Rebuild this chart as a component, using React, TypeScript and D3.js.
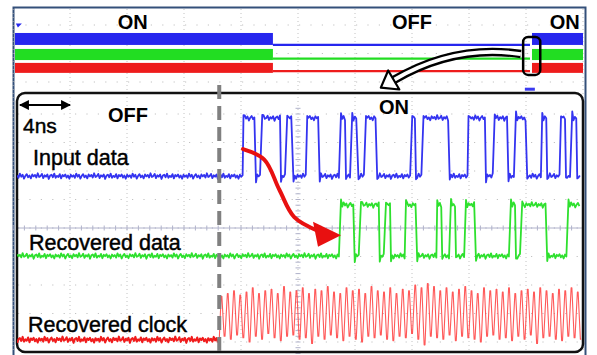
import React from 'react';
import * as d3 from 'd3';

const width = 597;
const height = 355;
const font = "'Liberation Sans', Arial, sans-serif";

// top strip: long time base (x in divisions), transmitter ON / OFF
const topStates = ['ON', 'OFF', 'ON'];
const topBounds = [0, 4.56, 9.07, 10];
const topLabelAt = [2.1, 7.0, 9.68];
const topColors = ['#2626ee', '#22dd22', '#ee1c1c'];
const topHigh = [0.28, 0.84, 1.33];
const topBandLow = [0.7, 1.23, 1.68];
const topIdle = [0.7, 1.18, 1.62];

// zoomed view: time in ns, level in divisions
const channelNames = ['Input data', 'Recovered data', 'Recovered clock'];
const channelColors = ['#3434f0', '#2ee02e', '#f01c1c'];
const channelLow = [1.82, -0.98, -3.92];
const channelHigh = [3.86, 0.81, -2.2];
const inputEdges = [18.4, 19.4, 19.9, 21.4, 21.9, 22.4, 23.5, 24.5, 26.2, 26.6, 27.1, 27.6, 28.2, 29.1,
  31.9, 32.2, 32.8, 34.9, 36.4, 37.8, 38.5, 39.6, 40.2, 41.1, 42.3, 42.7, 43.8, 44.2, 44.7, 45.1];
const recoveredEdges = [26.2, 27.3, 27.8, 29.3, 29.8, 30.2, 31.4, 32.3, 33.9, 34.3, 35.0, 35.4, 36.2, 37.0,
  39.8, 40.2, 40.7, 42.7, 44.4];
const clockStart = 16.5;
const clockPeriod = 0.5;
const clockHighs = [-2.4, -2.3, -2.2, -2.35, -2.25, -2.1, -2.3, -2.2, -2.15, -2.3, -2.05, -2.25, -2.2, -2.1,
  -2.3, -2.15, -2.2, -2.05, -2.25, -2.3, -2.1, -2.2, -2.15, -2.3, -2.05, -2.2, -2.25, -2.1, -2.3, -2.15,
  -2.2, -2.0, -2.1, -1.95, -2.05, -2.2, -2.1, -2.25, -2.15, -2.05, -2.2, -2.3, -2.1, -2.2, -2.15, -2.25,
  -2.1, -2.3, -2.2, -2.15, -2.25, -2.1, -2.2, -2.3, -2.15, -2.2, -2.1, -2.25];
const clockLows = [-3.8, -3.9, -3.75, -3.85, -4.0, -3.8, -3.9, -3.7, -3.85, -3.95, -3.8, -3.75, -3.9, -3.85,
  -4.05, -3.8, -3.9, -3.75, -3.85, -3.95, -3.8, -3.9, -4.0, -3.8, -3.85, -3.75, -3.9, -3.95, -3.8, -3.85,
  -3.7, -3.9, -4.1, -3.8, -3.85, -3.9, -3.75, -3.95, -3.8, -3.85, -3.9, -4.0, -3.8, -3.75, -3.9, -3.85,
  -3.95, -3.8, -3.9, -3.75, -4.05, -3.85, -3.8, -3.9, -3.95, -3.8, -3.85, -3.9];
const scaleBarNs = 4;
const tStart = 0.3;
const tEnd = 45.4;

// trace noise pattern
const noise = [0.3, -0.6, 0.9, -0.2, 0.5, -0.9, 0.1, 0.7, -0.4, 0.2, -0.8, 0.6, -0.1, 0.4, -0.5, 1.0, -0.3,
  0.0, 0.8, -0.7, 0.3, -0.2, 0.6, -1.0, 0.2, 0.5, -0.4, 0.9, -0.6, 0.1, -0.3, 0.7, -0.8, 0.4, -0.1, 0.6,
  -0.5, 0.2, -0.9, 0.5, -0.2];

const x = d3.scaleLinear().domain([0, 45.6]).range([13, 583]);
const y = d3.scaleLinear().domain([0, 1]).range([228, 199.5]);
const tx = d3.scaleLinear().domain([0, 10]).range([13, 583]);
const ty = d3.scaleLinear().domain([0, 1]).range([25, 53.5]);

type Pt = [number, number];

const digital = (edges: number[], lo: number, hi: number, amp: number, seed: number, end = tEnd) => {
  const bounds = [tStart, ...edges, end];
  const pts: Pt[] = [];
  let k = seed;
  for (let i = 0; i < bounds.length - 1; i++) {
    const a = bounds[i];
    const b = bounds[i + 1];
    const lvl = i % 2 ? hi : lo;
    const kick = i === 0 ? 0 : (i % 2 ? 0.16 : -0.14);
    pts.push([a + 0.04, lvl + kick + amp * noise[k++ % noise.length]]);
    for (let t = a + 0.14; t < b - 0.03; t += 0.11) {
      pts.push([t, lvl + amp * noise[k++ % noise.length]]);
    }
  }
  return pts;
};

const line = d3.line<Pt>().x((d) => x(d[0])).y((d) => y(d[1]));

const App = () => {
  const inputPts = digital(inputEdges, channelLow[0], channelHigh[0], 0.1, 0);
  const recPts = digital(recoveredEdges, channelLow[1], channelHigh[1], 0.1, 11);
  const clkBase = digital([], channelLow[2], channelLow[2], 0.11, 23, clockStart);

  const clkPts: Pt[] = [[clockStart, channelLow[2]]];
  clockHighs.forEach((h, i) => {
    const t0 = clockStart + i * clockPeriod;
    const lo = clockLows[i];
    clkPts.push([t0 + 0.3 * clockPeriod, h]);
    clkPts.push([t0 + 0.42 * clockPeriod, h]);
    clkPts.push([t0 + 0.78 * clockPeriod, lo]);
    clkPts.push([t0 + 0.92 * clockPeriod, lo]);
  });

  // grid
  const vLines = d3.range(0, 11);
  const topH = [0, 1, 2];
  const botH = d3.range(-4, 5);
  const hTicks = d3.range(0, 10.01, 0.2);
  const vTicks = d3.range(-4.4, 4.3, 0.2);

  // red arrow from input's first edge to recovered data's first edge
  const redPath = d3.line<Pt>().x((d) => x(d[0])).y((d) => y(d[1])).curve(d3.curveCatmullRom)([
    [18.4, 2.77], [20.1, 2.4], [21.3, 1.35], [22.5, 0.38], [24.4, -0.1],
  ]);
  const redHead: Pt[] = [[26.24, -0.25], [24.0, 0.22], [24.4, -0.66]];

  // hollow black arrow from the ON marker down to the zoom
  const a0: Pt = [tx(8.91), ty(1.02)];
  const ac: Pt = [tx(7.75), ty(0.67)];
  const a1: Pt = [tx(6.68), ty(1.93)];
  const dx = a1[0] - ac[0];
  const dy = a1[1] - ac[1];
  const len = Math.hypot(dx, dy);
  const ux = dx / len;
  const uy = dy / len;
  const tip: Pt = [a1[0] + ux * 15, a1[1] + uy * 15];
  const w1: Pt = [a1[0] - uy * 11, a1[1] + ux * 11];
  const w2: Pt = [a1[0] + uy * 11, a1[1] - ux * 11];
  const bodyD = `M${ a0[0] },${ a0[1] } Q${ ac[0] },${ ac[1] } ${ a1[0] },${ a1[1] }`;

  const sbY = 105;
  const heavy = { stroke: '#000', strokeWidth: 0.45 };

  return (
    <svg width={ width } height={ height } style={{ position: 'absolute', left: 0, top: 0, display: 'block' }}
      fontFamily={ font }>
      <defs>
        <clipPath id="scr"><rect x={ 17 } y={ 93 } width={ 565 } height={ 258 } /></clipPath>
        <marker id="ah" viewBox="0 0 10 10" refX="9" refY="5" markerWidth="4.5" markerHeight="4.5"
          orient="auto-start-reverse">
          <path d="M0,0 L10,5 L0,10 z" fill="#000" />
        </marker>
      </defs>
      <rect x={ 0 } y={ 0 } width={ width } height={ height } fill="#fff" />
      <rect x={ 13.5 } y={ 7.5 } width={ 572 } height={ 360 } fill="#fff" stroke="#34507a" strokeWidth={ 2 } />

      {/* graticule */}
      <g stroke="#c2c2c2" strokeWidth={ 1 }>
        {vLines.map((v) => (
          <line key={ `v${ v }` } x1={ tx(v) } x2={ tx(v) } y1={ 9 } y2={ 351 } strokeDasharray="1 3" />
        ))}
        {topH.map((v) => (
          <line key={ `t${ v }` } x1={ 14 } x2={ 584 } y1={ ty(v) } y2={ ty(v) } strokeDasharray="1.2 10.2" />
        ))}
        {botH.map((v) => (
          <line key={ `b${ v }` } x1={ 18 } x2={ 582 } y1={ y(v) } y2={ y(v) } strokeDasharray="1.2 10.2"
            stroke={ v === 0 ? '#a8aac4' : '#c2c2c2' } />
        ))}
      </g>
      <g stroke="#b0b2ca" strokeWidth={ 1 }>
        <line x1={ 18 } x2={ 582 } y1={ y(0) } y2={ y(0) } />
        {hTicks.map((v) => (
          <line key={ `ht${ v }` } x1={ tx(v) } x2={ tx(v) } y1={ y(0) - 2.5 } y2={ y(0) + 2.5 } />
        ))}
        {vTicks.map((v) => (
          <line key={ `vt${ v }` } x1={ tx(5) - 2.5 } x2={ tx(5) + 2.5 } y1={ y(v) } y2={ y(v) } />
        ))}
      </g>

      {/* top strip traces */}
      {topColors.map((c, ci) => (
        <g key={ `top${ ci }` }>
          {topStates.map((s, si) => (s === 'ON'
            ? <rect key={ si } x={ tx(topBounds[si]) + 2 } y={ ty(topHigh[ci]) }
              width={ tx(topBounds[si + 1]) - tx(topBounds[si]) - 2 }
              height={ ty(topBandLow[ci]) - ty(topHigh[ci]) } fill={ c } />
            : <line key={ si } x1={ tx(topBounds[si]) } x2={ tx(topBounds[si + 1]) }
              y1={ ty(topIdle[ci]) } y2={ ty(topIdle[ci]) } stroke={ c } strokeWidth={ 2.2 } />))}
        </g>
      ))}
      <path d={ `M${ tx(0.05) },${ ty(-0.05) } l6,0 l-4,4 z` } fill="#2626ee" />
      <rect x={ tx(8.98) } y={ ty(2.2) } width={ 10 } height={ 3 } fill="#3a3af0" />
      {topStates.map((s, i) => (
        <text key={ `tl${ i }` } x={ tx(topLabelAt[i]) } y={ 29 } textAnchor="middle" fontWeight="bold"
          fontSize={ 20 }>{s}</text>
      ))}

      {/* zoomed screen */}
      <rect x={ 17 } y={ 93 } width={ 566 } height={ 259 } rx={ 8 } fill="none" stroke="#111" strokeWidth={ 2.5 } />
      <g clipPath="url(#scr)" fill="none" strokeLinejoin="round">
        <path d={ line(inputPts) ?? '' } stroke={ channelColors[0] } strokeWidth={ 1.8 } />
        <path d={ line(recPts) ?? '' } stroke={ channelColors[1] } strokeWidth={ 1.8 } />
        <path d={ line(clkBase) ?? '' } stroke={ channelColors[2] } strokeWidth={ 2 } />
        <path d={ line(clkPts) ?? '' } stroke="#ff3c3c" strokeOpacity={ 0.85 } strokeWidth={ 1.1 } />
      </g>
      <line x1={ x(clockStart) } x2={ x(clockStart) } y1={ 85 } y2={ 352 } stroke="#808080" strokeWidth={ 4 }
        strokeDasharray="14 7" />

      <line x1={ x(0.56) } x2={ x(0.56 + scaleBarNs) } y1={ sbY } y2={ sbY } stroke="#000" strokeWidth={ 2.2 }
        markerStart="url(#ah)" markerEnd="url(#ah)" />
      <text x={ 23 } y={ 133 } fontSize={ 21 } { ...heavy }>{`${ scaleBarNs }ns`}</text>
      <text x={ 128 } y={ 122 } textAnchor="middle" fontWeight="bold" fontSize={ 20 }>OFF</text>
      <text x={ 394 } y={ 114 } textAnchor="middle" fontWeight="bold" fontSize={ 20 }>ON</text>
      <text x={ 33 } y={ 165 } fontSize={ 21.5 } { ...heavy }>{channelNames[0]}</text>
      <text x={ 29 } y={ 250 } fontSize={ 21.5 } { ...heavy }>{channelNames[1]}</text>
      <text x={ 28 } y={ 332 } fontSize={ 21.5 } { ...heavy }>{channelNames[2]}</text>

      {/* red arrow */}
      <path d={ redPath ?? '' } fill="none" stroke="#e81010" strokeWidth={ 4 } strokeLinecap="round" />
      <path d={ `M${ redHead.map((p) => `${ x(p[0]) },${ y(p[1]) }`).join('L') }z` } fill="#e81010" />

      {/* marker box and hollow arrow */}
      <rect x={ tx(8.95) } y={ ty(0.42) } width={ tx(9.25) - tx(8.95) } height={ ty(1.75) - ty(0.42) } rx={ 5 }
        fill="none" stroke="#000" strokeWidth={ 2.5 } />
      <path d={ bodyD } fill="none" stroke="#000" strokeWidth={ 8.5 } />
      <path d={ bodyD } fill="none" stroke="#fff" strokeWidth={ 3.8 } />
      <path d={ `M${ w1[0] },${ w1[1] } L${ tip[0] },${ tip[1] } L${ w2[0] },${ w2[1] } z` } fill="#fff"
        stroke="#000" strokeWidth={ 2.2 } strokeLinejoin="round" />
    </svg>
  );
};

export default App;
